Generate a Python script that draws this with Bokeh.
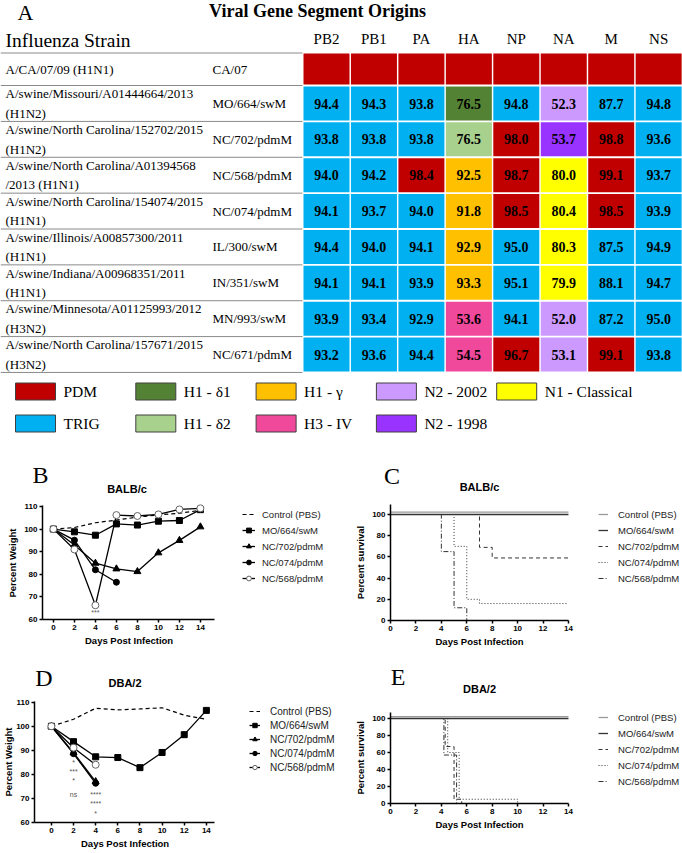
from bokeh.plotting import figure
from bokeh.layouts import column, row
from bokeh.models import (Range1d, ColumnDataSource, Label, Legend, LegendItem, FixedTicker,
                          Title)
from bokeh.core.properties import value
from bokeh.transform import dodge
from bokeh.embed import file_html
from bokeh.resources import INLINE

SERIF = "Liberation Serif"
SANS = "Liberation Sans"

# ---------------- Data: panel A ----------------
segments = ["PB2", "PB1", "PA", "HA", "NP", "NA", "M", "NS"]
strain_full = [
    "A/CA/07/09 (H1N1)",
    "A/swine/Missouri/A01444664/2013\n(H1N2)",
    "A/swine/North Carolina/152702/2015\n(H1N2)",
    "A/swine/North Carolina/A01394568\n/2013 (H1N1)",
    "A/swine/North Carolina/154074/2015\n(H1N1)",
    "A/swine/Illinois/A00857300/2011\n(H1N1)",
    "A/swine/Indiana/A00968351/2011\n(H1N1)",
    "A/swine/Minnesota/A01125993/2012\n(H3N2)",
    "A/swine/North Carolina/157671/2015\n(H3N2)",
]
strain_short = ["CA/07", "MO/664/swM", "NC/702/pdmM", "NC/568/pdmM", "NC/074/pdmM",
                "IL/300/swM", "IN/351/swM", "MN/993/swM", "NC/671/pdmM"]
lineage_names = ["PDM", "TRIG", "H1 - δ1", "H1 - δ2", "H1 - γ", "H3 - IV",
                 "N2 - 2002", "N2 - 1998", "N1 - Classical"]
segment_lineage = [
    ["PDM", "PDM", "PDM", "PDM", "PDM", "PDM", "PDM", "PDM"],
    ["TRIG", "TRIG", "TRIG", "H1 - δ1", "TRIG", "N2 - 2002", "TRIG", "TRIG"],
    ["TRIG", "TRIG", "TRIG", "H1 - δ2", "PDM", "N2 - 1998", "PDM", "TRIG"],
    ["TRIG", "TRIG", "PDM", "H1 - γ", "PDM", "N1 - Classical", "PDM", "TRIG"],
    ["TRIG", "TRIG", "TRIG", "H1 - γ", "PDM", "N1 - Classical", "PDM", "TRIG"],
    ["TRIG", "TRIG", "TRIG", "H1 - γ", "TRIG", "N1 - Classical", "TRIG", "TRIG"],
    ["TRIG", "TRIG", "TRIG", "H1 - γ", "TRIG", "N1 - Classical", "TRIG", "TRIG"],
    ["TRIG", "TRIG", "TRIG", "H3 - IV", "TRIG", "N2 - 2002", "TRIG", "TRIG"],
    ["TRIG", "TRIG", "TRIG", "H3 - IV", "PDM", "N2 - 2002", "PDM", "TRIG"],
]
identity = [
    [None] * 8,
    [94.4, 94.3, 93.8, 76.5, 94.8, 52.3, 87.7, 94.8],
    [93.8, 93.8, 93.8, 76.5, 98.0, 53.7, 98.8, 93.6],
    [94.0, 94.2, 98.4, 92.5, 98.7, 80.0, 99.1, 93.7],
    [94.1, 93.7, 94.0, 91.8, 98.5, 80.4, 98.5, 93.9],
    [94.4, 94.0, 94.1, 92.9, 95.0, 80.3, 87.5, 94.9],
    [94.1, 94.1, 93.9, 93.3, 95.1, 79.9, 88.1, 94.7],
    [93.9, 93.4, 92.9, 53.6, 94.1, 52.0, 87.2, 95.0],
    [93.2, 93.6, 94.4, 54.5, 96.7, 53.1, 99.1, 93.8],
]

# ---------------- Data: weight curves ----------------
days = [0, 2, 4, 6, 8, 10, 12, 14]
series_names = ["Control (PBS)", "MO/664/swM", "NC/702/pdmM", "NC/074/pdmM", "NC/568/pdmM"]
panel_letters = ["B", "C", "D", "E"]
panel_titles = ["BALB/c", "BALB/c", "DBA/2", "DBA/2"]

b_control = [100, 100.7, 102.8, 104.0, 105.3, 106.3, 107.0, 108.3]
b_mo664 = [100, 98.8, 97.3, 102.3, 101.8, 103.5, 103.8, 108.6]
b_nc702 = [100, 93.0, 84.9, 82.4, 81.2, 89.5, 95.0, 101.0]
b_nc074_days = [0, 2, 4, 6]
b_nc074 = [100, 95.1, 82.0, 76.5]
b_nc568 = [100, 91.0, 66.3, 106.2, 105.8, 106.5, 108.7, 109.2]
b_sig_day = [4]
b_sig_y = [63.3]
b_sig_text = ["***"]

d_control = [100, 102.9, 107.5, 106.8, 107.2, 107.7, 104.6, 102.9]
d_mo664 = [100, 93.6, 87.3, 87.0, 82.8, 89.1, 96.5, 106.6]
d_short_days = [0, 2, 4]
d_nc702 = [100, 89.0, 77.0]
d_nc074 = [100, 88.6, 76.3]
d_nc568 = [100, 91.1, 84.0]
d_sig_day = [2, 2, 2, 2, 4, 4, 4]
d_sig_y = [84.9, 81.0, 77.6, 71.8, 71.8, 67.9, 63.7]
d_sig_text = ["*", "***", "*", "ns", "****", "****", "*"]

# ---------------- Data: survival curves ----------------
surv_full_days = [0, 14]
surv_full = [100, 100]
c_nc702_days = [0, 7, 8, 14]
c_nc702 = [100, 69, 59, 59]
c_nc074_days = [0, 5, 6, 7, 14]
c_nc074 = [100, 70, 20, 16, 16]
c_nc568_days = [0, 4, 5, 6]
c_nc568 = [100, 65, 12, 0]

e_nc702_days = [0, 4.3, 5.0, 5.6]
e_nc702 = [100, 67, 5, 0]
e_nc074_days = [0, 4.5, 5.4, 10]
e_nc074 = [100, 60, 5, 0]
e_nc568_days = [0, 4.2, 5.2]
e_nc568 = [100, 57, 0]

# ---------------- Styles ----------------
lineage_color = {
    "PDM": "#C00000", "TRIG": "#00B0F0", "H1 - δ1": "#548235", "H1 - δ2": "#A9D18E",
    "H1 - γ": "#FFC000", "H3 - IV": "#F0489B", "N2 - 2002": "#CC99FF",
    "N2 - 1998": "#9933FF", "N1 - Classical": "#FFFF00",
}

# ================= Panel A (also hosts the B / C headings) =================
TOP_H = 494
pa = figure(width=682, height=TOP_H, x_range=Range1d(0, 682), y_range=Range1d(TOP_H, 0),
            output_backend="svg", toolbar_location=None, x_axis_type=None, y_axis_type=None,
            min_border=0, title=None)
pa.grid.visible = False
pa.outline_line_color = None


def row_center(i):
    return 68.5 if i == 0 else 103 + 35.86 * (i - 1)


def row_height(i):
    return 31 if i == 0 else 34


def col_center(j):
    return 326 + 47.45 * j


cx, cy, cw, ch, cc, ct = [], [], [], [], [], []
for i, lin_row in enumerate(segment_lineage):
    for j, lin in enumerate(lin_row):
        cx.append(col_center(j))
        cy.append(row_center(i))
        cw.append(46)
        ch.append(row_height(i))
        cc.append(lineage_color[lin])
        v = identity[i][j]
        ct.append("" if v is None else f"{v:.1f}")
cells = ColumnDataSource(dict(x=cx, y=cy, w=cw, h=ch, c=cc, t=ct))
pa.rect(x="x", y="y", width="w", height="h", fill_color="c", line_color=None, source=cells)
pa.text(x="x", y="y", text="t", source=cells, text_font=value(SERIF), text_font_style="bold",
        text_font_size="14px", text_align="center", text_baseline="middle", text_color="black")

sep_y = [52.5, 85] + [row_center(i) + 17.93 for i in range(1, len(strain_full))]
pa.segment(x0=[0] * len(sep_y), x1=[302] * len(sep_y), y0=sep_y, y1=sep_y,
           line_color="#8a8a8a", line_width=1)

rows_y = [row_center(i) for i in range(len(strain_full))]
pa.text(x=[5] * len(strain_full), y=rows_y, text=strain_full, text_font=value(SERIF),
        text_font_size="13px", text_align="left", text_baseline="middle",
        text_line_height=1.3, text_color="black")
pa.text(x=[212] * len(strain_short), y=rows_y, text=strain_short, text_font=value(SERIF),
        text_font_size="13px", text_align="left", text_baseline="middle", text_color="black")

pa.text(x=[col_center(j) for j in range(len(segments))], y=[38] * len(segments), text=segments,
        text_font=value(SERIF), text_font_size="15px", text_align="center",
        text_baseline="middle", text_color="black")
pa.text(x=[5], y=[40], text=["Influenza Strain"], text_font=value(SERIF),
        text_font_size="19.5px", text_align="left", text_baseline="middle", text_color="black")
pa.text(x=[317], y=[10], text=["Viral Gene Segment Origins"], text_font=value(SERIF),
        text_font_style="bold", text_font_size="18px", text_align="center",
        text_baseline="middle", text_color="black")
pa.text(x=[25], y=[12], text=["A"], text_font=value(SERIF), text_font_size="22px",
        text_align="center", text_baseline="middle", text_color="black")

lx, ly, lc, tx = [], [], [], []
for k, name in enumerate(lineage_names):
    left = 15 + 120.3 * (k // 2)
    yy = 391 if k % 2 == 0 else 423
    lx.append(left + 20)
    ly.append(yy)
    lc.append(lineage_color[name])
    tx.append(left + 48)
pa.rect(x=lx, y=ly, width=40, height=17, fill_color=lc, line_color="#404040", line_width=1)
pa.text(x=tx, y=ly, text=lineage_names, text_font=value(SERIF), text_font_size="15.5px",
        text_align="left", text_baseline="middle", text_color="black")

# headings of panels B and C (drawn here so they are not cut by the plot frames)
pa.text(x=[40, 391.5], y=[474, 475], text=panel_letters[:2], text_font=value(SERIF),
        text_font_size="24px", text_align="center", text_baseline="middle", text_color="black")
pa.text(x=[126.5, 479], y=[488, 486], text=panel_titles[:2], text_font=value(SANS),
        text_font_style="bold", text_font_size="11px", text_align="center",
        text_baseline="middle", text_color="black")

# ================= helpers =================
XLAB = "Days Post Infection"
XLAB_W = 88.0  # approx rendered width (px) of the x-axis title


def make_fig(w, h, ml, mb, xr, yr, xb, yb, xlab_off, ylab, ylab_off, ylab_standoff):
    p = figure(width=w, height=h, min_border_left=ml, min_border_right=0,
               min_border_top=0, min_border_bottom=mb, x_range=Range1d(*xr), y_range=Range1d(*yr),
               output_backend="svg", toolbar_location=None, title=None)
    p.frame_align = False
    p.grid.visible = False
    p.outline_line_color = None
    for ax in [p.xaxis[0], p.yaxis[0]]:
        ax.axis_line_width = 1.5
        ax.axis_line_color = "black"
        ax.major_tick_line_width = 1.5
        ax.major_tick_line_color = "black"
        ax.major_tick_out = 3
        ax.major_tick_in = 0
        ax.minor_tick_line_color = None
        ax.major_label_text_font = SANS
        ax.major_label_text_font_style = "bold"
        ax.major_label_text_font_size = "8px"
        ax.major_label_text_color = "black"
        ax.major_label_standoff = 2
    p.xaxis[0].ticker = FixedTicker(ticks=days)
    p.xaxis[0].bounds = xb
    p.yaxis[0].bounds = yb
    p.add_layout(Title(text=XLAB, align="left", offset=xlab_off, standoff=0,
                       text_font=SANS, text_font_style="bold", text_font_size="9.5px",
                       text_color="black"), "below")
    p.add_layout(Title(text=ylab, align="left", offset=ylab_off, standoff=ylab_standoff,
                       text_font=SANS, text_font_style="bold", text_font_size="9.5px",
                       text_color="black"), "left")
    return p


def add_heading(p, letter, lx, ly, title, tx, ty):
    p.add_layout(Label(x=lx, y=ly, x_units="screen", y_units="screen", text=letter,
                       text_font=SERIF, text_font_size="24px", text_align="center",
                       text_baseline="middle", text_color="black"))
    p.add_layout(Label(x=tx, y=ty, x_units="screen", y_units="screen", text=title,
                       text_font=SANS, text_font_style="bold", text_font_size="11px",
                       text_align="center", text_baseline="middle", text_color="black"))


def add_legend(p, items, vx, vy, gw, standoff, gh, spacing, fs):
    leg = Legend(items=items, location=(vx, vy), orientation="vertical", padding=0, margin=0,
                 spacing=spacing, glyph_width=gw, glyph_height=gh, label_height=gh,
                 label_standoff=standoff, label_text_font=SANS, label_text_font_size=fs,
                 label_text_color="#222222", border_line_color=None, background_fill_alpha=0)
    p.add_layout(leg)


def weight_panel(p, control, mo, d702, v702, d074, v074, d568, v568, sig_d, sig_y, sig_t):
    r_c = p.line(days, control, line_color="black", line_width=1.2, line_dash="4 3")
    r_mo_l = p.line(days, mo, line_color="black", line_width=1.3)
    r_mo_m = p.scatter(days, mo, marker="square", size=6, color="black")
    r_702_l = p.line(d702, v702, line_color="black", line_width=1.3)
    r_702_m = p.scatter(d702, v702, marker="triangle", size=7, color="black")
    r_074_l = p.line(d074, v074, line_color="black", line_width=1.3)
    r_074_m = p.scatter(d074, v074, marker="circle", size=6, color="black")
    r_568_l = p.line(d568, v568, line_color="black", line_width=1.3)
    r_568_m = p.scatter(d568, v568, marker="circle", size=7, fill_color="white",
                        line_color="#666666", line_width=1)
    p.text(x=sig_d, y=sig_y, text=sig_t, text_font=value(SANS), text_font_size="7px",
           text_align="center", text_baseline="middle", text_color="#555555")
    return [
        LegendItem(label=series_names[0], renderers=[r_c]),
        LegendItem(label=series_names[1], renderers=[r_mo_l, r_mo_m]),
        LegendItem(label=series_names[2], renderers=[r_702_l, r_702_m]),
        LegendItem(label=series_names[3], renderers=[r_074_l, r_074_m]),
        LegendItem(label=series_names[4], renderers=[r_568_l, r_568_m]),
    ]


def survival_panel(p, d702, v702, d074, v074, d568, v568):
    src_full = ColumnDataSource(dict(x=surv_full_days, y=surv_full))
    r_c = p.step(x="x", y=dodge("y", 2.2, range=p.y_range), source=src_full, mode="after",
                 line_color="#9a9a9a", line_width=1.3)
    r_mo = p.step(x="x", y="y", source=src_full, mode="after", line_color="#333333",
                  line_width=1.3)
    r_702 = p.step(d702, v702, mode="after", line_color="#333333", line_width=1,
                   line_dash="4 3")
    r_074 = p.step(d074, v074, mode="after", line_color="#333333", line_width=1,
                   line_dash="1 2")
    r_568 = p.step(d568, v568, mode="after", line_color="#333333", line_width=1,
                   line_dash="5 2 1 2")
    return [
        LegendItem(label=series_names[0], renderers=[r_c]),
        LegendItem(label=series_names[1], renderers=[r_mo]),
        LegendItem(label=series_names[2], renderers=[r_702]),
        LegendItem(label=series_names[3], renderers=[r_074]),
        LegendItem(label=series_names[4], renderers=[r_568]),
    ]


# ================= Panel B =================
pb = make_fig(345, 157, 40, 32, (-1.04, 27.82), (60, 115.31), (-1.04, 15.33), (60, 110.4),
              126.5 - XLAB_W / 2 - 40, "Percent Weight", 22, 8)
pb.yaxis[0].ticker = FixedTicker(ticks=[60, 70, 80, 90, 100, 110])
items_b = weight_panel(pb, b_control, b_mo664, days, b_nc702, b_nc074_days, b_nc074,
                       days, b_nc568, b_sig_day, b_sig_y, b_sig_text)
add_legend(pb, items_b, 200, 35, 13, 7, 12, 4, "9.5px")

# ================= Panel C =================
pc = make_fig(337, 157, 45, 31, (0, 22.97), (0, 118.87), (0, 14), (0, 109),
              479 - XLAB_W / 2 - 390, "Percent survival", 21.3, 8)
pc.yaxis[0].ticker = FixedTicker(ticks=[0, 20, 40, 60, 80, 100])
items_c = survival_panel(pc, c_nc702_days, c_nc702, c_nc074_days, c_nc074,
                         c_nc568_days, c_nc568)
add_legend(pc, items_c, 208, 36, 10, 10, 12, 4, "9.5px")

# ================= Panel D =================
pd_ = make_fig(345, 201, 32, 30, (-1.526, 26.57), (60, 131.07), (-1.526, 14.72), (60, 110.4),
               122.5 - XLAB_W / 2 - 32, "Percent Weight", 26, 0)
pd_.yaxis[0].ticker = FixedTicker(ticks=[60, 70, 80, 90, 100, 110])
items_d = weight_panel(pd_, d_control, d_mo664, d_short_days, d_nc702, d_short_days, d_nc074,
                       d_short_days, d_nc568, d_sig_day, d_sig_y, d_sig_text)
add_legend(pd_, items_d, 215, 49, 11, 10, 12, 2, "10px")
add_heading(pd_, panel_letters[2], 9.5, 145, panel_titles[2], 90.5, 140)

# ================= Panel E =================
pe = make_fig(337, 201, 45, 49, (0, 22.97), (0, 178.8), (0, 14), (0, 107),
              479 - XLAB_W / 2 - 390, "Percent survival", 9, 8)
pe.yaxis[0].ticker = FixedTicker(ticks=[0, 20, 40, 60, 80, 100])
items_e = survival_panel(pe, e_nc702_days, e_nc702, e_nc074_days, e_nc074,
                         e_nc568_days, e_nc568)
add_legend(pe, items_e, 208, 16, 10, 10, 12, 4, "9.5px")
add_heading(pe, panel_letters[3], 7.5, 126.5, panel_titles[3], 89, 115)

layout = column(pa, row(pb, pc), row(pd_, pe))
open("out.html", "w").write(file_html(layout, INLINE))
